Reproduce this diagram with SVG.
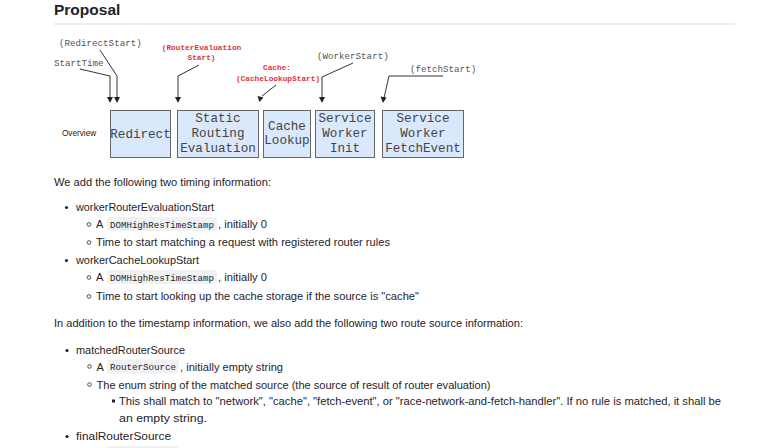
<svg xmlns="http://www.w3.org/2000/svg" width="765" height="448" viewBox="0 0 765 448">
<style>
.box{fill:#dae8fc;stroke:#666;stroke-width:1}
.bt{font-family:"Liberation Mono",monospace;font-size:12.6px;fill:#444;text-anchor:middle}
.lab{font-family:"Liberation Mono",monospace;font-size:9.2px;fill:#555}
.red{font-family:"Liberation Mono",monospace;font-size:7.8px;font-weight:bold;fill:#e0323c;text-anchor:middle}
.ln{fill:none;stroke:#333;stroke-width:1}
.ah{fill:#222}
.t{font-family:"Liberation Sans",Arial,sans-serif;font-size:11px;fill:#1f2328}
.code{font-family:"Liberation Mono",monospace;font-size:9.1px;fill:#1f2328}
.cb{fill:#eff1f3}
.dot{fill:#1f2328}
.circ{fill:none;stroke:#1f2328;stroke-width:0.8}
</style>
<rect width="765" height="448" fill="#ffffff"/>
<text x="54" y="15" font-family="Liberation Sans,Arial,sans-serif" font-size="15.5" font-weight="bold" fill="#1f2328">Proposal</text>
<rect x="54" y="23.5" width="681" height="1" fill="#d8dee4"/>

<text x="62" y="136" font-family="Liberation Sans,Arial,sans-serif" font-size="8.2" fill="#222">Overview</text>

<g id="labels">
<text class="lab" x="59" y="46">(RedirectStart)</text>
<text class="lab" x="54" y="66">StartTime</text>
<text class="red" x="201.5" y="50">(RouterEvaluation</text>
<text class="red" x="201.5" y="60">Start)</text>
<text class="red" x="277" y="70">Cache:</text>
<text class="red" x="278" y="80.5">(CacheLookupStart)</text>
<text class="lab" x="317" y="59">(WorkerStart)</text>
<text class="lab" x="410" y="72">(fetchStart)</text>
</g>

<g id="connectors">
<path class="ln" d="M80,69 L110,76 L110,98"/>
<polygon class="ah" points="107,97 113,97 110,103"/>
<path class="ln" d="M100,50 L117,76 L117,98"/>
<polygon class="ah" points="114,97 120,97 117,103"/>
<path class="ln" d="M199,65 L178,76 L178,98"/>
<polygon class="ah" points="175,97 181,97 178,103"/>
<path class="ln" d="M276,85 L262,96"/>
<polygon class="ah" points="257.5,96 263.5,97.5 259.5,102"/>
<path class="ln" d="M353,63 L322,77 L322,98"/>
<polygon class="ah" points="319,97 325,97 322,103"/>
<path class="ln" d="M443,76 L389,76 L384,98"/>
<polygon class="ah" points="380.5,96.5 386.5,97.5 383,103"/>
</g>

<g id="redirect">
<rect class="box" x="110.5" y="110.5" width="60" height="47"/>
<text class="bt" x="140.5" y="137.5">Redirect</text>
</g>
<g id="static-routing">
<rect class="box" x="177.5" y="110.5" width="81" height="47"/>
<text class="bt" x="218" y="122">Static</text>
<text class="bt" x="218" y="137">Routing</text>
<text class="bt" x="218" y="152">Evaluation</text>
</g>
<g id="cache-lookup">
<rect class="box" x="263.5" y="110.5" width="47" height="47"/>
<text class="bt" x="287" y="130">Cache</text>
<text class="bt" x="287" y="144">Lookup</text>
</g>
<g id="sw-init">
<rect class="box" x="315.5" y="110.5" width="59" height="47"/>
<text class="bt" x="345" y="122">Service</text>
<text class="bt" x="345" y="137">Worker</text>
<text class="bt" x="345" y="152">Init</text>
</g>
<g id="sw-fetch">
<rect class="box" x="382.5" y="110.5" width="81" height="47"/>
<text class="bt" x="423" y="122">Service</text>
<text class="bt" x="423" y="137">Worker</text>
<text class="bt" x="423" y="152">FetchEvent</text>
</g>

<g id="text">
<text class="t" x="54" y="186" textLength="217" lengthAdjust="spacingAndGlyphs">We add the following two timing information:</text>

<circle class="dot" cx="66.5" cy="207.5" r="1.6"/>
<text class="t" x="76" y="211" textLength="138" lengthAdjust="spacingAndGlyphs">workerRouterEvaluationStart</text>
<circle class="circ" cx="89" cy="224.5" r="1.8"/>
<text class="t" x="96" y="228">A</text>
<rect class="cb" x="107" y="217" width="110" height="14" rx="3"/>
<text class="code" x="110" y="227.5" textLength="104" lengthAdjust="spacingAndGlyphs">DOMHighResTimeStamp</text>
<text class="t" x="218" y="228" textLength="49" lengthAdjust="spacingAndGlyphs">, initially 0</text>
<circle class="circ" cx="89" cy="242.5" r="1.8"/>
<text class="t" x="96" y="246" textLength="294" lengthAdjust="spacingAndGlyphs">Time to start matching a request with registered router rules</text>

<circle class="dot" cx="66.5" cy="260.5" r="1.6"/>
<text class="t" x="76" y="264" textLength="123" lengthAdjust="spacingAndGlyphs">workerCacheLookupStart</text>
<circle class="circ" cx="89" cy="277.5" r="1.8"/>
<text class="t" x="96" y="281">A</text>
<rect class="cb" x="107" y="270" width="110" height="14" rx="3"/>
<text class="code" x="110" y="280.5" textLength="104" lengthAdjust="spacingAndGlyphs">DOMHighResTimeStamp</text>
<text class="t" x="218" y="281" textLength="49" lengthAdjust="spacingAndGlyphs">, initially 0</text>
<circle class="circ" cx="89" cy="296.5" r="1.8"/>
<text class="t" x="96" y="300" textLength="323" lengthAdjust="spacingAndGlyphs">Time to start looking up the cache storage if the source is "cache"</text>

<text class="t" x="54" y="327" textLength="469" lengthAdjust="spacingAndGlyphs">In addition to the timestamp information, we also add the following two route source information:</text>

<circle class="dot" cx="67" cy="350.5" r="1.6"/>
<text class="t" x="76" y="354" textLength="109" lengthAdjust="spacingAndGlyphs">matchedRouterSource</text>
<circle class="circ" cx="89.5" cy="366.5" r="1.8"/>
<text class="t" x="96.5" y="370.5">A</text>
<rect class="cb" x="107" y="359.5" width="72" height="14" rx="3"/>
<text class="code" x="110" y="370" textLength="66" lengthAdjust="spacingAndGlyphs">RouterSource</text>
<text class="t" x="180" y="370.5" textLength="103" lengthAdjust="spacingAndGlyphs">, initially empty string</text>
<circle class="circ" cx="89.5" cy="384.5" r="1.8"/>
<text class="t" x="96.5" y="388.5" textLength="394" lengthAdjust="spacingAndGlyphs">The enum string of the matched source (the source of result of router evaluation)</text>
<rect class="dot" x="112" y="399.5" width="3" height="3"/>
<text class="t" x="119" y="405" textLength="602" lengthAdjust="spacingAndGlyphs">This shall match to "network", "cache", "fetch-event", or "race-network-and-fetch-handler". If no rule is matched, it shall be</text>
<text class="t" x="119" y="422" textLength="88" lengthAdjust="spacingAndGlyphs">an empty string.</text>

<circle class="dot" cx="67" cy="436.5" r="1.6"/>
<text class="t" x="76" y="440" textLength="95" lengthAdjust="spacingAndGlyphs">finalRouterSource</text>
<circle class="circ" cx="89.5" cy="453" r="1.8"/>
<text class="t" x="96.5" y="457">A</text>
<rect class="cb" x="107" y="446" width="72" height="14" rx="3"/>
<text class="code" x="110" y="456.5" textLength="66" lengthAdjust="spacingAndGlyphs">RouterSource</text>
<text class="t" x="180" y="457" textLength="103" lengthAdjust="spacingAndGlyphs">, initially empty string</text>
</g>
</svg>
